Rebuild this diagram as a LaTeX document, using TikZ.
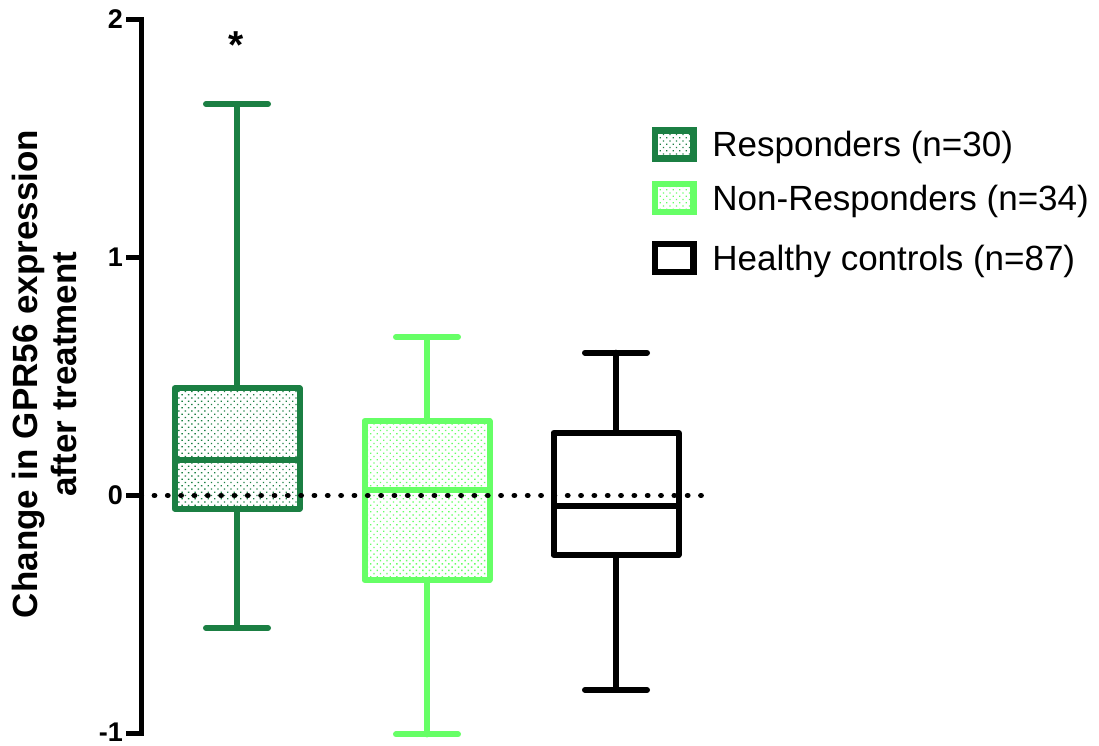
\documentclass[tikz,border=0pt]{standalone}
\usepackage{fontspec}
\setmainfont{Liberation Sans}
\usepackage{tikz}
\usetikzlibrary{
    positioning,
    patterns.meta
}
\definecolor{respGreen}{RGB}{27, 127, 67}
\definecolor{nonGreen}{RGB}{102, 255, 102}

\begin{document}
\begin{tikzpicture}[x=1pt, y=238pt,
    boxline/.style={line width=6pt, line join=round},
    whisker/.style={line width=6pt, line cap=round},
    dotfill/.style={pattern={Dots[distance=4.6pt, angle=45, radius=0.95pt]}, pattern color=#1},
    legbox/.style={draw=#1, line width=6.5pt, minimum width=38.5pt, minimum height=28pt, inner sep=0pt},
    legtext/.style={font=\fontsize{35}{40}\selectfont, inner sep=0pt, text height=25pt, text depth=0pt},
    ticklabel/.style={font=\bfseries\fontsize{27}{30}\selectfont, anchor=east, inner sep=0pt}
]
    \useasboundingbox (0,-1.0525) rectangle (1099,2.0819);

    % Y axis with ticks
    \draw[line width=5pt] (126,2) -- (141,2) -- (141,-1) -- (126,-1);
    \draw[line width=5pt] (126,1) -- (141,1) (126,0) -- (141,0);
    \node[ticklabel] (lab2) at (123,2) {2};
    \node[ticklabel] (lab1) at (123,1) {1};
    \node[ticklabel] (lab0) at (123,0) {0};
    \node[ticklabel] (labm1) at (123,-0.994) {-1};
    \node[rotate=90, align=center, inner sep=0pt, font=\bfseries\fontsize{35}{39}\selectfont]
        (ylabel) at (44.75,0.5105) {Change in GPR56 expression\\after treatment};

    % Responders
    \draw[whisker, respGreen] (237,0.45) -- (237,1.645) (206,1.645) -- (268,1.645);
    \draw[whisker, respGreen] (237,-0.055) -- (237,-0.557) (206,-0.557) -- (268,-0.557);
    \draw[boxline, draw=respGreen, dotfill=respGreen] (174.5,-0.055) rectangle (299.5,0.45);
    \draw[boxline, respGreen] (174.5,0.151) -- (299.5,0.151);
    \node[anchor=base, inner sep=0pt, font=\bfseries\fontsize{39}{44}\selectfont] (star) at (236.5,1.8380) {*};

    % Non-Responders
    \draw[whisker, nonGreen] (427,0.313) -- (427,0.666) (396,0.666) -- (458,0.666);
    \draw[whisker, nonGreen] (427,-0.355) -- (427,-1.004) (396,-1.004) -- (458,-1.004);
    \draw[boxline, draw=nonGreen, dotfill=nonGreen] (364.5,-0.355) rectangle (489.5,0.313);
    \draw[boxline, nonGreen] (364.5,0.025) -- (489.5,0.025);

    % Healthy controls
    \draw[whisker] (616,0.263) -- (616,0.600) (585,0.600) -- (647,0.600);
    \draw[whisker] (616,-0.25) -- (616,-0.817) (585,-0.817) -- (647,-0.817);
    \draw[boxline, fill=white] (553.5,-0.25) rectangle (678.5,0.263);
    \draw[boxline] (553.5,-0.044) -- (678.5,-0.044);

    % Zero line
    \draw[line width=5.5pt, line cap=round, dash pattern=on 0.3pt off 13.03pt] (141,0) -- (708,0);

    % Legend
    \node[legbox=respGreen, dotfill=respGreen] (legResp) at (674.2,1.4748) {};
    \node[legtext, right=15.5pt of legResp] (txtResp) {Responders (n=30)};
    \node[legbox=nonGreen, dotfill=nonGreen] (legNon) at (674.2,1.25) {};
    \node[legtext, right=15.5pt of legNon] (txtNon) {Non-Responders (n=34)};
    \node[legbox=black, fill=white] (legHealthy) at (674.2,0.9979) {};
    \node[legtext, right=15.5pt of legHealthy] (txtHealthy) {Healthy controls (n=87)};
\end{tikzpicture}
\end{document}
